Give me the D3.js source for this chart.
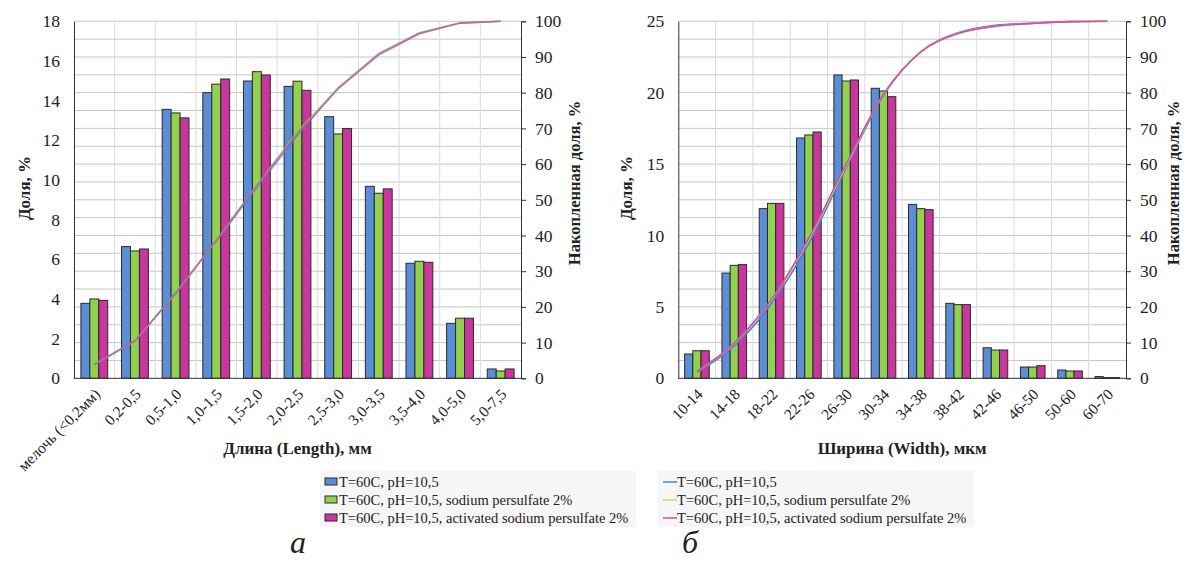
<!DOCTYPE html>
<html><head><meta charset="utf-8">
<script src="https://cdn.jsdelivr.net/npm/d3@7"></script>
<style>body{margin:0;background:#fff}svg{display:block}text{font-family:"Liberation Serif","Times New Roman",serif;fill:#222}</style>
</head><body><svg id="c" width="1184" height="565"></svg>
<script>
// ---- Data: length distribution (chart a) ----
const lenCats = ["мелочь (<0,2мм)","0,2-0,5","0,5-1,0","1,0-1,5","1,5-2,0","2,0-2,5","2,5-3,0","3,0-3,5","3,5-4,0","4,0-5,0","5,0-7,5"];
const lenS1 = [3.78,6.64,13.56,14.40,14.99,14.72,13.19,9.68,5.80,2.77,0.47];
const lenS2 = [4.00,6.42,13.38,14.83,15.46,14.98,12.32,9.33,5.90,3.03,0.37];
const lenS3 = [3.93,6.52,13.13,15.09,15.29,14.52,12.59,9.55,5.85,3.03,0.47];
const lenCum1 = [3.8,10.4,24.0,38.4,53.4,68.1,81.3,91.0,96.8,99.5,100];
const lenCum2 = [4.0,10.4,23.8,38.6,54.1,69.1,81.4,90.7,96.6,99.6,100];
const lenCum3 = [3.9,10.5,23.6,38.7,54.0,68.5,81.1,90.6,96.5,99.5,100];
const lenLeftTicks = [0,2,4,6,8,10,12,14,16,18];
// ---- Data: width distribution (chart б) ----
const widCats = ["10-14","14-18","18-22","22-26","26-30","30-34","34-38","38-42","42-46","46-50","50-60","60-70"];
const widS1 = [1.70,7.37,11.88,16.83,21.24,20.31,12.18,5.25,2.14,0.79,0.58,0.12];
const widS2 = [1.93,7.91,12.25,17.04,20.82,20.12,11.88,5.16,1.98,0.79,0.51,0.05];
const widS3 = [1.93,7.96,12.25,17.25,20.89,19.72,11.81,5.16,1.98,0.88,0.51,0.05];
const widCum1 = [1.7,9.1,21.0,37.8,59.0,79.3,91.5,96.8,98.9,99.5,99.9,100];
const widCum2 = [1.9,9.8,22.0,38.9,59.6,79.6,91.5,96.6,98.6,99.4,99.9,100];
const widCum3 = [1.9,9.9,22.1,39.3,60.0,79.6,91.4,96.6,98.6,99.4,99.9,100];
const widLeftTicks = [0,5,10,15,20,25];
const rightTicks = [0,10,20,30,40,50,60,70,80,90,100];
const gridSteps = [0,5,10,15,20,25,30,35,40,45,50,55,60,65,70,75,80,85,90,95,100];
const seriesNames = ["T=60C, pH=10,5","T=60C, pH=10,5, sodium persulfate 2%","T=60C, pH=10,5, activated sodium persulfate 2%"];

const barColors = ["#5b8ed6","#92d050","#c9369e"];
const lineColors = ["#4f7fcf","#c8d86a","#d94aa6"];

const svg = d3.select("#c");
svg.append("rect").attr("width",1184).attr("height",565).attr("fill","#fff");

function chart(o){
  const g = svg.append("g");
  const x = d3.scaleBand().domain(o.cats).range([o.L,o.R]).padding(0);
  const y = d3.scaleLinear().domain([0,o.ymax]).range([o.B,o.T]);
  const y2 = d3.scaleLinear().domain([0,100]).range([o.B,o.T]);
  const inner = d3.scaleBand().domain([0,1,2]).range([x.bandwidth()*0.17,x.bandwidth()*0.83]).padding(0);
  // gridlines
  g.selectAll(".hg").data(gridSteps.slice(1)).join("line")
    .attr("x1",o.L).attr("x2",o.R).attr("y1",d=>y2(d)).attr("y2",d=>y2(d))
    .attr("stroke","#c6c6c6").attr("stroke-width",1);
  g.selectAll(".vg").data(o.cats.slice(1)).join("line")
    .attr("x1",d=>x(d)).attr("x2",d=>x(d)).attr("y1",o.T).attr("y2",o.B)
    .attr("stroke","#dadada").attr("stroke-width",1);
  // bars
  [o.s1,o.s2,o.s3].forEach((s,k)=>{
    g.selectAll(".b"+k).data(s).join("rect")
      .attr("x",(d,i)=>x(o.cats[i])+inner(k)).attr("width",inner.bandwidth())
      .attr("y",d=>y(d)).attr("height",d=>o.B-y(d))
      .attr("fill",barColors[k]).attr("stroke","#2a2a2a").attr("stroke-width",1);
  });
  // cumulative lines
  const curve = o.smooth ? d3.curveMonotoneX : d3.curveLinear;
  [o.c1,o.c2,o.c3].forEach((s,k)=>{
    const line = d3.line().x((d,i)=>x(o.cats[i])+x.bandwidth()/2).y(d=>y2(d)).curve(curve);
    g.append("path").datum(s).attr("d",line).attr("fill","none")
      .attr("stroke",o.lineCols[k]).attr("stroke-width",1.6).attr("stroke-opacity",o.lineOp);
  });
  // axes
  const axL = g.append("g").attr("transform",`translate(${o.L},0)`).call(d3.axisLeft(y).tickValues(o.leftTicks).tickSize(0).tickPadding(14));
  axL.select(".domain").attr("stroke","#333");
  axL.selectAll("text").style("font-family","Liberation Serif").style("font-size","17.5px").attr("fill","#222");
  const axR = g.append("g").attr("transform",`translate(${o.R},0)`).call(d3.axisRight(y2).tickValues(rightTicks).tickSize(5).tickPadding(9));
  axR.select(".domain").attr("stroke","#333");
  axR.selectAll("line").attr("stroke","#333");
  axR.selectAll("text").style("font-family","Liberation Serif").style("font-size","17.5px").attr("fill","#222");
  g.append("line").attr("x1",o.L).attr("x2",o.R).attr("y1",o.B).attr("y2",o.B).attr("stroke","#333");
  // x labels
  g.selectAll(".xl").data(o.cats).join("text")
    .attr("transform",d=>`translate(${x(d)+x.bandwidth()/2+3},${o.B+13}) rotate(-45)`)
    .attr("text-anchor","end").attr("dy","0.35em").style("font-size","15.5px").text(d=>d);
  // titles
  g.append("text").attr("x",(o.L+o.R)/2).attr("y",454).attr("text-anchor","middle")
    .style("font-size","17px").style("font-weight","bold").text(o.xTitle);
  g.append("text").attr("transform",`translate(${o.ltX},188) rotate(-90)`).attr("text-anchor","middle").attr("dy","0.35em")
    .style("font-size","17px").style("font-weight","bold").text("Доля, %");
  g.append("text").attr("transform",`translate(${o.rtX},183) rotate(-90)`).attr("text-anchor","middle").attr("dy","0.35em")
    .style("font-size","16.5px").style("font-weight","bold").text("Накопленная доля, %");
  // legend
  const lg = g.append("g");
  lg.append("rect").attr("x",o.legX-5).attr("y",471).attr("width",316).attr("height",56).attr("fill","#f6f6f6");
  seriesNames.forEach((n,k)=>{
    const yy = 482 + k*18;
    if(o.legBars){
      lg.append("rect").attr("x",o.legX).attr("y",yy-4).attr("width",12).attr("height",7)
        .attr("fill",barColors[k]).attr("stroke","#2a2a2a").attr("stroke-width",1);
    } else {
      lg.append("line").attr("x1",o.legX).attr("x2",o.legX+14).attr("y1",yy).attr("y2",yy)
        .attr("stroke",lineColors[k]).attr("stroke-width",1.5);
    }
    lg.append("text").attr("x",o.legX+14).attr("y",yy).attr("dy","0.35em").style("font-size","14.5px").text(n);
  });
  g.append("text").attr("x",o.letterX).attr("y",553).attr("text-anchor","middle")
    .style("font-size","32px").style("font-style","italic").text(o.letter);
}

chart({cats:lenCats,s1:lenS1,s2:lenS2,s3:lenS3,c1:lenCum1,c2:lenCum2,c3:lenCum3,ymax:18,leftTicks:lenLeftTicks,
  L:74,R:521,T:21.3,B:378.3,smooth:false,lineCols:["#4f7fcf","#92c050","#d04aa8"],lineOp:0.7,
  xTitle:"Длина (Length), мм",ltX:24,rtX:574,legX:325,legBars:true,letter:"а",letterX:298});
chart({cats:widCats,s1:widS1,s2:widS2,s3:widS3,c1:widCum1,c2:widCum2,c3:widCum3,ymax:25,leftTicks:widLeftTicks,
  L:678.3,R:1126,T:21.3,B:378.3,smooth:true,lineCols:lineColors,lineOp:1,
  xTitle:"Ширина (Width), мкм",ltX:626,rtX:1173,legX:663,legBars:false,letter:"б",letterX:690});
</script></body></html>
